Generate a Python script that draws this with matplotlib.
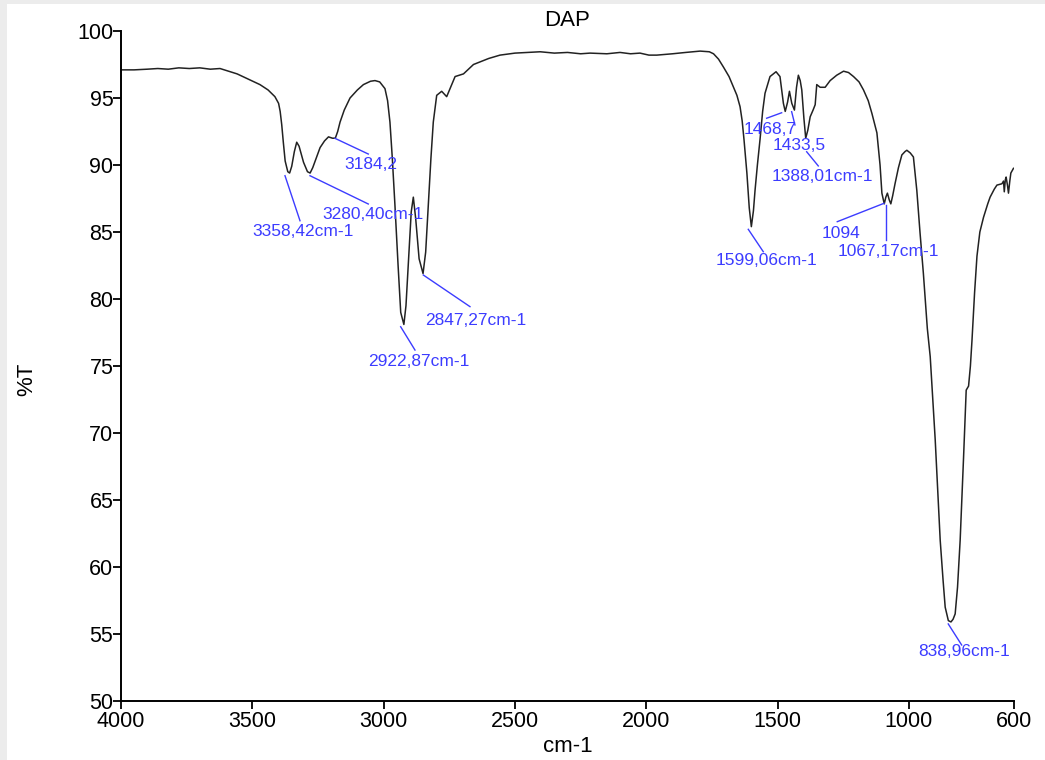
import matplotlib
matplotlib.use('Agg')
import matplotlib.pyplot as plt
from matplotlib.patches import Rectangle
import numpy as np

plt.rcParams['font.family'] = ['Liberation Sans', 'DejaVu Sans']

# Spectrum (wavenumber cm-1, %T)
wavenumber = [4000, 3950, 3900, 3860, 3820, 3780, 3740, 3700, 3660, 3623, 3590, 3558,
              3520, 3471, 3440, 3414, 3400, 3394, 3388, 3382, 3375, 3365, 3358, 3350,
              3340, 3331, 3322, 3305, 3290, 3280, 3270, 3255, 3242, 3225, 3210, 3195,
              3184, 3175, 3166, 3150, 3128, 3100, 3077, 3050, 3033, 3015, 2995, 2985,
              2976, 2967, 2957, 2945, 2935, 2923, 2915, 2905, 2895, 2887, 2878, 2865,
              2850, 2840, 2830, 2820, 2811, 2798, 2779, 2760, 2745, 2728, 2696, 2658,
              2600, 2557, 2500, 2450, 2404, 2350, 2300, 2250, 2214, 2150, 2100, 2060,
              2024, 1990, 1960, 1900, 1850, 1795, 1760, 1744, 1725, 1706, 1685, 1668,
              1655, 1643, 1635, 1628, 1617, 1608, 1600, 1592, 1586, 1577, 1567, 1557,
              1548, 1529, 1506, 1491, 1478, 1471, 1462, 1455, 1446, 1436, 1428, 1421,
              1414, 1408, 1400, 1393, 1385, 1376, 1365, 1357, 1351, 1338, 1319, 1300,
              1275, 1249, 1230, 1211, 1190, 1173, 1155, 1141, 1122, 1110, 1103, 1094,
              1088, 1082, 1075, 1069, 1062, 1053, 1040, 1027, 1015, 1008, 995, 983,
              970, 958, 945, 930, 919, 900, 881, 870, 862, 850, 840, 832,
              824, 815, 805, 792, 782, 773, 766, 760, 750, 741, 730, 716,
              700, 691, 675, 665, 646, 640, 637, 633, 630, 625, 621, 616,
              612, 602]
transmittance = [97.1, 97.1, 97.15, 97.2, 97.15, 97.25, 97.2, 97.25, 97.15, 97.2, 97.0, 96.8,
                 96.45, 96.0, 95.6, 95.1, 94.6, 94.0, 93.0, 91.7, 90.3, 89.5, 89.4, 89.9,
                 91.0, 91.7, 91.4, 90.2, 89.5, 89.4, 89.8, 90.6, 91.3, 91.8, 92.1, 92.0,
                 92.0, 92.5, 93.2, 94.1, 95.0, 95.6, 96.0, 96.25, 96.3, 96.2, 95.7, 94.8,
                 93.2, 90.5, 87.0, 82.5, 79.0, 78.1, 79.5, 83.0, 86.5, 87.6, 86.0, 83.0,
                 81.9, 83.5, 87.0, 90.5, 93.2, 95.2, 95.5, 95.1, 95.8, 96.6, 96.8, 97.5,
                 97.95, 98.2, 98.35, 98.4, 98.45, 98.35, 98.4, 98.3, 98.35, 98.3, 98.4, 98.3,
                 98.35, 98.2, 98.2, 98.3, 98.4, 98.5, 98.45, 98.3, 97.9, 97.3, 96.6, 95.8,
                 95.2, 94.35, 93.3, 91.9, 89.4, 86.8, 85.4, 86.6, 88.1, 90.0, 91.9, 94.0,
                 95.35, 96.6, 96.96, 96.6, 94.6, 94.0, 94.7, 95.5, 94.6, 94.1, 95.8, 96.7,
                 96.3, 95.6, 93.5, 92.0, 92.6, 93.6, 94.1, 94.5, 96.0, 95.8, 95.8, 96.3,
                 96.7, 97.0, 96.9, 96.6, 96.2, 95.6, 94.8, 93.85, 92.4, 90.0, 87.9, 87.1,
                 87.6, 87.9, 87.4, 87.1, 87.7, 88.6, 89.8, 90.75, 91.0, 91.1, 90.9, 90.6,
                 88.1, 85.0, 81.9, 77.8, 75.7, 69.5, 62.0, 59.0, 57.0, 56.0, 55.9, 56.1,
                 56.5, 58.5, 62.0, 68.2, 73.2, 73.5, 75.0, 76.9, 80.5, 83.2, 85.0, 86.1,
                 87.1, 87.6, 88.2, 88.5, 88.6, 88.8, 88.0, 88.9, 89.1, 88.5, 87.9, 88.8,
                 89.4, 89.75]

# Peak labels: text, leader line start (near peak), leader line end, text centre
peak_labels = ['3358,42cm-1', '3280,40cm-1', '3184,2', '2922,87cm-1', '2847,27cm-1',
               '1599,06cm-1', '1468,7', '1433,5', '1388,01cm-1', '1094', '1067,17cm-1',
               '838,96cm-1']
line_start = [(3375.6, 89.2), (3280.4, 89.2), (3185.3, 91.99), (2935.2, 77.93),
              (2849.0, 81.79), (1611.7, 85.2), (1484.6, 93.9), (1446.6, 93.98),
              (1389.4, 90.99), (1095.1, 87.14), (1088.6, 87.01), (850.3, 55.75)]
line_end = [(3318.5, 85.84), (3058.5, 87.09), (3058.5, 90.82), (2880.7, 76.19),
            (2671.3, 79.43), (1554.6, 83.53), (1541.8, 93.49), (1434.0, 92.99),
            (1345.2, 89.93), (1272.9, 85.77), (1088.6, 84.4), (799.3, 54.18)]
text_pos = [(3307, 85.0), (3042.5, 86.27), (3049, 90.06), (2868, 75.32),
            (2649, 78.43), (1541.8, 82.91), (1529.1, 92.67), (1418, 91.43),
            (1331.2, 89.13), (1260, 84.9), (1077.3, 83.53), (788.6, 53.69)]

fig = plt.figure(figsize=(10.45, 7.6), dpi=100)
fig.add_artist(Rectangle((0, 0), 7 / 1045, 1, transform=fig.transFigure,
                         color='#ececec', lw=0))
fig.add_artist(Rectangle((0, 1 - 4 / 760), 1, 4 / 760, transform=fig.transFigure,
                         color='#ececec', lw=0))
ax = fig.add_axes([121 / 1045, 1 - 701 / 760, 893 / 1045, 670 / 760])

ax.plot(wavenumber, transmittance, color='#222222', lw=1.1)

blue = '#3c3cff'
for lab, p0, p1, tp in zip(peak_labels, line_start, line_end, text_pos):
    ax.plot([p0[0], p1[0]], [p0[1], p1[1]], color=blue, lw=1.0)
    ax.text(tp[0], tp[1], lab, color=blue, fontsize=12.5, ha='center', va='center')

ax.set_xlim(4000, 600)
ax.set_ylim(50, 100)
ax.set_xticks([4000, 3500, 3000, 2500, 2000, 1500, 1000, 600])
ax.set_yticks(np.arange(50, 101, 5))
for s in ['top', 'right']:
    ax.spines[s].set_visible(False)
for s in ['left', 'bottom']:
    ax.spines[s].set_linewidth(1.4)
ax.tick_params(axis='both', direction='out', length=5.5, width=1.3, labelsize=15.5)
ax.tick_params(axis='y', pad=0)
ax.tick_params(axis='x', pad=2)

ax.set_title('DAP', fontsize=16, pad=3)
ax.set_xlabel('cm-1', fontsize=16)
ax.set_ylabel('%T', fontsize=16)
ax.xaxis.set_label_coords(0.5, -0.052)
ax.yaxis.set_label_coords(-0.094, 0.48)

fig.savefig('out.png', dpi=100)
